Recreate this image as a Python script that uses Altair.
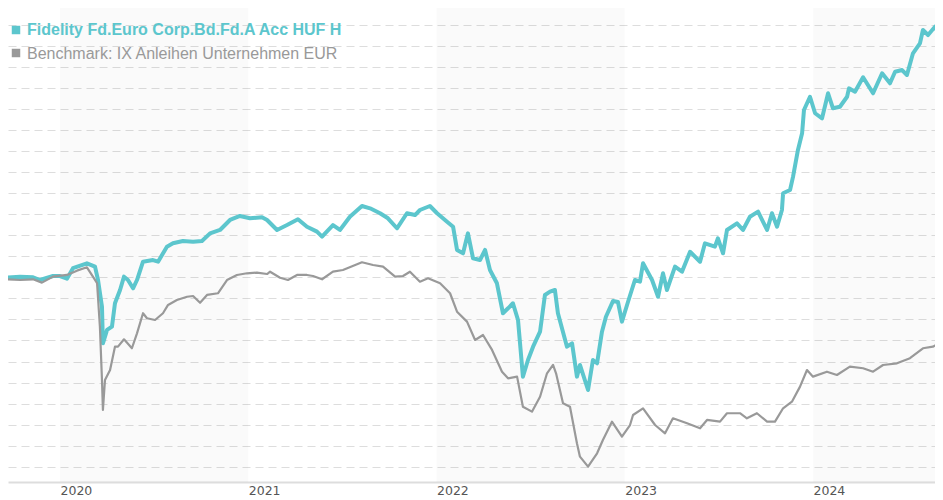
import altair as alt
import pandas as pd

# ---------------- data (decimal years, % performance) ----------------
fund_t = [2019.718, 2019.788, 2019.857, 2019.894, 2019.963, 2020.000, 2020.037, 2020.069, 2020.143, 2020.186,
          2020.202, 2020.223, 2020.228, 2020.250, 2020.276, 2020.292, 2020.319, 2020.340, 2020.361, 2020.388,
          2020.409, 2020.441, 2020.494, 2020.521, 2020.568, 2020.600, 2020.653, 2020.707, 2020.754, 2020.797,
          2020.850, 2020.903, 2020.956, 2021.009, 2021.073, 2021.100, 2021.153, 2021.206, 2021.264, 2021.312,
          2021.365, 2021.392, 2021.450, 2021.487, 2021.540, 2021.604, 2021.647, 2021.700, 2021.742, 2021.790,
          2021.843, 2021.886, 2021.912, 2021.965, 2022.003, 2022.056, 2022.088, 2022.109, 2022.141, 2022.167,
          2022.194, 2022.231, 2022.258, 2022.284, 2022.321, 2022.353, 2022.380, 2022.406, 2022.433, 2022.459,
          2022.486, 2022.513, 2022.550, 2022.576, 2022.603, 2022.629, 2022.645, 2022.693, 2022.720, 2022.746,
          2022.762, 2022.805, 2022.831, 2022.853, 2022.879, 2022.900, 2022.938, 2022.964, 2022.985, 2023.017,
          2023.054, 2023.081, 2023.097, 2023.145, 2023.177, 2023.203, 2023.224, 2023.267, 2023.304, 2023.347,
          2023.400, 2023.426, 2023.479, 2023.495, 2023.522, 2023.543, 2023.596, 2023.628, 2023.665, 2023.708,
          2023.756, 2023.782, 2023.809, 2023.835, 2023.841, 2023.878, 2023.894, 2023.920, 2023.942, 2023.952,
          2023.984, 2024.011, 2024.048, 2024.080, 2024.106, 2024.143, 2024.181, 2024.191, 2024.223, 2024.266,
          2024.319, 2024.367, 2024.409, 2024.436, 2024.473, 2024.499, 2024.531, 2024.568, 2024.584, 2024.611,
          2024.648, 2024.664, 2024.685]
fund_v = [-0.03, 0.07, 0.01, -0.25, 0.13, 0.13, -0.12, 0.87, 1.34, 1.02,
          -0.25, -2.79, -6.27, -5.00, -4.69, -2.46, -1.20, 0.07, -0.25, -1.04,
          -0.25, 1.49, 1.65, 1.49, 2.92, 3.24, 3.46, 3.40, 3.46, 4.19,
          4.51, 5.46, 5.84, 5.62, 5.72, 5.46, 4.51, 4.98, 5.53, 4.82,
          4.35, 3.87, 4.98, 4.51, 5.77, 6.79, 6.57, 6.10, 5.62, 4.67,
          6.10, 5.93, 6.41, 6.79, 6.10, 5.30, 4.82, 2.61, 2.29, 4.19,
          1.82, 1.65, 2.61, 0.70, -0.56, -3.41, -2.94, -2.46, -4.05, -9.44,
          -7.86, -6.59, -5.16, -1.67, -1.36, -1.20, -3.41, -6.59, -6.27, -9.44,
          -8.33, -10.71, -7.86, -8.17, -5.16, -3.74, -2.24, -2.34, -4.21, -2.34,
          -0.25, -0.41, 1.34, -0.25, -1.84, 0.39, -1.20, 1.02, 0.54, 2.44,
          1.49, 3.24, 2.92, 3.72, 2.29, 4.51, 5.14, 4.51, 5.77, 6.25,
          4.51, 6.10, 4.82, 6.41, 8.00, 8.31, 9.58, 12.12, 13.70, 15.92,
          17.18, 15.61, 15.13, 17.51, 16.08, 16.23, 17.18, 17.98, 17.66, 19.03,
          17.51, 19.41, 18.46, 19.56, 19.72, 19.25, 21.31, 22.26, 23.53, 23.05,
          23.84, 23.37, 24.79]

bench_t = [2019.718, 2019.788, 2019.857, 2019.904, 2019.963, 2020.037, 2020.090, 2020.143, 2020.175, 2020.197,
           2020.212, 2020.223, 2020.228, 2020.239, 2020.266, 2020.292, 2020.308, 2020.340, 2020.382, 2020.409,
           2020.441, 2020.462, 2020.505, 2020.547, 2020.574, 2020.621, 2020.675, 2020.707, 2020.744, 2020.781,
           2020.839, 2020.887, 2020.940, 2020.993, 2021.046, 2021.100, 2021.116, 2021.169, 2021.211, 2021.259,
           2021.312, 2021.344, 2021.392, 2021.450, 2021.503, 2021.604, 2021.663, 2021.716, 2021.780, 2021.822,
           2021.859, 2021.912, 2021.955, 2022.019, 2022.072, 2022.109, 2022.162, 2022.205, 2022.247, 2022.295,
           2022.348, 2022.380, 2022.428, 2022.459, 2022.507, 2022.550, 2022.587, 2022.619, 2022.635, 2022.672,
           2022.709, 2022.746, 2022.762, 2022.805, 2022.853, 2022.884, 2022.932, 2022.985, 2023.028, 2023.044,
           2023.097, 2023.161, 2023.214, 2023.256, 2023.331, 2023.400, 2023.437, 2023.506, 2023.543, 2023.612,
           2023.649, 2023.702, 2023.756, 2023.798, 2023.841, 2023.888, 2023.931, 2023.968, 2024.000, 2024.074,
           2024.127, 2024.196, 2024.266, 2024.319, 2024.372, 2024.446, 2024.515, 2024.584, 2024.637, 2024.685]
bench_v = [-0.18, -0.25, -0.18, -0.50, 0.07, 0.23, 0.64, 0.96, 0.07, -0.56,
           -4.69, -9.76, -12.61, -9.76, -8.81, -6.59, -6.59, -5.89, -6.74, -5.32,
           -3.41, -3.89, -4.05, -3.41, -2.62, -2.15, -1.84, -1.77, -2.41, -1.67,
           -1.51, -0.25, 0.23, 0.39, 0.45, 0.32, 0.54, -0.03, -0.25, 0.23,
           0.23, 0.13, -0.18, 0.54, 0.70, 1.44, 1.18, 1.02, 0.07, 0.13,
           0.54, -0.41, -0.09, -0.56, -1.51, -3.26, -4.21, -5.95, -5.48, -6.90,
           -8.97, -9.60, -9.44, -12.30, -12.77, -11.35, -9.12, -8.33, -9.12, -11.97,
           -12.30, -15.78, -17.05, -18.00, -16.73, -15.46, -13.72, -15.15, -14.04, -13.09,
           -12.45, -14.04, -14.83, -13.40, -13.88, -14.35, -13.56, -13.72, -12.92, -12.92,
           -13.40, -12.92, -13.72, -13.72, -12.45, -11.82, -10.39, -8.81, -9.44, -8.97,
           -9.28, -8.49, -8.64, -8.97, -8.33, -8.17, -7.69, -6.74, -6.59, -6.11]

series_names = ["Fidelity Fd.Euro Corp.Bd.Fd.A Acc HUF H", "Benchmark: IX Anleihen Unternehmen EUR"]
year_ticks = [2020, 2021, 2022, 2023, 2024]
band_start = [2020, 2022, 2024]
band_end = [2021, 2023, 2024.7]
grid_values = list(range(-18, 26, 2))

X_DOMAIN = [2019.7238, 2024.648]
Y_DOMAIN = [-19.46, 25.62]

TEAL = "#5cc6cd"
GREY = "#999999"

fund_df = pd.DataFrame({"t": fund_t, "v": fund_v, "series": series_names[0]})
bench_df = pd.DataFrame({"t": bench_t, "v": bench_v, "series": series_names[1]})
band_df = pd.DataFrame({"start": band_start, "end": band_end})

xscale = alt.Scale(domain=X_DOMAIN, nice=False, zero=False)
yscale = alt.Scale(domain=Y_DOMAIN, nice=False, zero=False)

x_axis = alt.Axis(values=year_ticks, format="d", labelAlign="left",
                  labelColor="#555555", labelFont="DejaVu Sans", labelFontSize=12.5,
                  labelPadding=2, ticks=False, grid=False, domainColor="#dddddd",
                  domainWidth=2, title=None, labelOverlap=False)
y_axis = alt.Axis(values=grid_values, grid=True, gridDash=[8, 5], gridColor="#dddddd",
                  gridWidth=1, labels=False, ticks=False, domain=False, title=None)

bands = alt.Chart(band_df).mark_rect(color="#000000", opacity=0.02, clip=True).encode(
    x=alt.X("start:Q", scale=xscale, axis=x_axis),
    x2="end:Q",
)

fund_line = alt.Chart(fund_df).mark_line(color=TEAL, strokeWidth=4, strokeJoin="round",
                                         clip=True).encode(
    x=alt.X("t:Q", scale=xscale, axis=x_axis),
    y=alt.Y("v:Q", scale=yscale, axis=y_axis),
)
bench_line = alt.Chart(bench_df).mark_line(color=GREY, strokeWidth=2.2, strokeJoin="round",
                                           clip=True).encode(
    x=alt.X("t:Q", scale=xscale, axis=x_axis),
    y=alt.Y("v:Q", scale=yscale, axis=y_axis),
)

leg_df1 = pd.DataFrame({"label": [series_names[0]]})
leg_df2 = pd.DataFrame({"label": [series_names[1]]})

leg_sq1 = alt.Chart(leg_df1).mark_square(color=TEAL, opacity=1, size=72).encode(
    x=alt.value(8), y=alt.value(22))
leg_sq2 = alt.Chart(leg_df2).mark_square(color=GREY, opacity=1, size=72).encode(
    x=alt.value(8), y=alt.value(45))
leg_tx1 = alt.Chart(leg_df1).mark_text(align="left", baseline="alphabetic", font="Liberation Sans",
                                       fontSize=16, fontWeight="bold", color=TEAL).encode(
    x=alt.value(19), y=alt.value(27), text="label:N")
leg_tx2 = alt.Chart(leg_df2).mark_text(align="left", baseline="alphabetic", font="Liberation Sans",
                                       fontSize=16, color=GREY).encode(
    x=alt.value(19), y=alt.value(51), text="label:N")

chart = alt.layer(bands, fund_line, bench_line, leg_sq1, leg_sq2, leg_tx1, leg_tx2).properties(
    width=927, height=474, padding=0, background="white"
).configure_view(stroke=None)

chart.save("out.html", embed_options={"renderer": "svg", "actions": False})
